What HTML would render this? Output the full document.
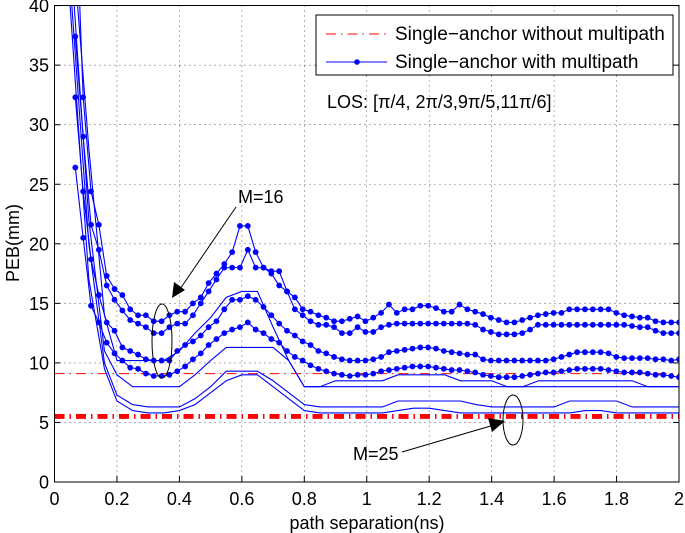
<!DOCTYPE html>
<html><head><meta charset="utf-8"><style>
body{margin:0;background:#fff}
svg{display:block;font-family:"Liberation Sans",sans-serif}
</style></head><body>
<svg id="c" width="685" height="533">
<defs><clipPath id="clip"><rect x="54.5" y="5.5" width="624.5" height="476.5"/></clipPath></defs>
<g id="grid"></g>
<g id="series" clip-path="url(#clip)"></g>
<rect x="54.5" y="5.5" width="624.5" height="476.5" fill="none" stroke="#000" stroke-width="1"/>
<g id="ticks"></g>
<text x="367" y="529" text-anchor="middle" font-size="18">path separation(ns)</text>
<text transform="translate(19,243) rotate(-90)" text-anchor="middle" font-size="18">PEB(mm)</text>
<g>
<rect x="316" y="15" width="357" height="60" fill="#fff" stroke="#000"/>
<line x1="326" y1="34" x2="387" y2="34" stroke="#f00" stroke-dasharray="10,5,1.5,5"/>
<text x="395" y="40" font-size="19">Single−anchor without multipath</text>
<line x1="326" y1="62" x2="387" y2="62" stroke="#00f"/>
<circle cx="357" cy="62" r="2.8" fill="#00f"/>
<text x="395" y="68" font-size="19">Single−anchor with multipath</text>
</g>
<text x="327" y="108" font-size="18">LOS: [π/4, 2π/3,9π/5,11π/6]</text>
<text x="238" y="203" font-size="18">M=16</text>
<line x1="236" y1="207" x2="178" y2="292" stroke="#000"/>
<polygon points="172,298 174,282 185,290" fill="#000"/>
<ellipse cx="162" cy="341" rx="10" ry="37" fill="none" stroke="#000"/>
<text x="353" y="460" font-size="18">M=25</text>
<line x1="402" y1="452" x2="494" y2="425" stroke="#000"/>
<polygon points="505,421 488,418 492,432" fill="#000"/>
<ellipse cx="513" cy="420" rx="10" ry="25" fill="none" stroke="#000"/>
</svg>
<script>
const xTicks=[0,0.2,0.4,0.6,0.8,1,1.2,1.4,1.6,1.8,2];
const xTickLabels=["0","0.2","0.4","0.6","0.8","1","1.2","1.4","1.6","1.8","2"];
const yTicks=[0,5,10,15,20,25,30,35,40];
const yTickLabels=["0","5","10","15","20","25","30","35","40"];
const dotStart=0.0667;
const dotStep=0.02511;
const dotA=[50,32.3,24.4,21.6,17.3,16.2,15.7,14.5,14,14,13.5,13.5,14,14.3,14.3,15,15.5,16.7,17.5,18.3,19.3,21.5,21.5,19.3,18,17.7,17.7,16,15.5,14.5,14.3,14,13.8,13.5,13.5,13.7,13.9,13.5,13.8,14.2,14.9,14.2,14.5,14.5,14.8,14.8,14.6,14.3,14.3,14.9,14.5,14.3,14.1,13.8,13.6,13.4,13.4,13.6,13.8,14.0,14.1,14.2,14.2,14.5,14.5,14.5,14.5,14.5,14.5,14.2,14.0,13.9,13.8,13.8,13.5,13.4,13.4,13.4];
const dotB=[37.4,29,21.6,19.5,16.5,15.3,14.4,13.6,13.3,13,12.5,12.5,13,13.3,13.3,14,15,16,17,18,18,18,19.5,18,18,17.5,16.5,16,14.5,14,13.5,13.2,13.2,13,12.5,12.5,13,12.6,12.6,13.0,13.2,13.3,13.3,13.3,13.3,13.3,13.3,13.3,13.3,13.3,13.3,13.2,12.8,12.6,12.4,12.4,12.4,12.5,12.8,13.2,13.2,13.2,13.2,13.2,13.2,13.2,13.2,13.2,13.2,13.2,13.2,13.1,13.0,13.0,12.7,12.5,12.5,12.5];
const dotC=[32.3,24.4,18.7,15.7,13.4,12.7,11.3,11.0,10.7,10.3,10.2,10.2,10.2,11,11.5,11.8,12.3,13,13.5,14.5,15.3,15.3,15.6,15.3,14.7,14,13.3,12.7,12.3,11.8,11.5,11,10.8,10.5,10.3,10.2,10.2,10.2,10.3,10.5,10.9,11,11.1,11.2,11.3,11.3,11.2,11,10.9,10.8,10.7,10.7,10.3,10.2,10.2,10.2,10.2,10.2,10.2,10.2,10.2,10.3,10.5,10.7,10.9,10.9,10.9,10.9,10.8,10.5,10.4,10.4,10.4,10.4,10.3,10.3,10.2,10.3];
const dotD=[26.4,20.5,14.8,13.4,11.7,10.8,10.2,9.6,9.5,9.1,8.9,8.9,9.0,9.3,9.7,10.3,10.8,11.5,12,12.5,12.8,13.0,13.4,12.8,12.5,12,11.7,11,10.5,10.2,9.8,9.5,9.3,9.1,9.0,8.9,9.0,9.0,9.1,9.3,9.4,9.5,9.6,9.7,9.7,9.7,9.6,9.5,9.4,9.4,9.3,9.2,9.0,8.9,8.8,8.8,8.8,8.9,9.0,9.1,9.2,9.2,9.3,9.4,9.5,9.5,9.5,9.5,9.4,9.3,9.2,9.2,9.2,9.1,9.0,9.0,8.9,8.8];
const solidX=[0.05,0.11,0.16,0.2,0.25,0.3,0.35,0.4,0.45,0.5,0.55,0.6,0.65,0.7,0.75,0.8,0.85,0.9,0.95,1,1.05,1.1,1.15,1.2,1.25,1.3,1.35,1.4,1.45,1.5,1.55,1.6,1.65,1.7,1.75,1.8,1.85,1.9,1.95,2];
const solid1=[48,28,14,10.2,10.2,10.2,10.2,11,12.5,13.8,15.5,16,16,13,10.2,8,8,8.5,8.5,8.5,8.5,9,9,9,9,8.5,8.5,8.5,8,8,8.5,8.5,8.5,8.5,8.5,8.5,8.5,8,8,8];
const solid2=[45,22,11,9,8,8,8,8,9,10.2,11.3,11.3,11.3,11.3,10.2,8,8,8,8,8,8,8,8,8,8,8,8,8,8,8,8,8,8,8,8,8,8,8,8,8];
const solid3=[42,20,10,7.3,6.5,6.3,6.3,6.3,7,8,9.3,9.3,9.3,8.5,7.5,6.5,6.3,6.3,6.3,6.3,6.3,6.8,6.8,6.8,6.8,6.8,6.5,6.3,6.3,6.3,6.3,6.3,6.8,6.8,6.8,6.8,6.3,6.3,6.3,6.3];
const solid4=[40,17,9.5,6.8,6,5.8,5.8,6,6.5,7.5,8.5,9,9,8,7,6,5.8,5.8,5.8,5.8,5.8,6,6.2,6.2,6,5.8,5.8,5.8,5.8,5.8,5.8,5.8,5.8,6,6,5.8,5.8,5.8,5.8,5.8];
const refLevels=[9.1,5.6,5.4];
const refWidths=[1,2.5,2.5];

const NS="http://www.w3.org/2000/svg";
const X=v=>54.5+v*312.25;
const Y=v=>482-v*11.91;
function mk(tag,attrs,parent){const e=document.createElementNS(NS,tag);for(const k in attrs)e.setAttribute(k,attrs[k]);parent.appendChild(e);return e;}
const grid=document.getElementById('grid'),ticks=document.getElementById('ticks'),ser=document.getElementById('series');
xTicks.forEach((t,i)=>{
  if(i>0&&i<xTicks.length-1){const g=mk('line',{x1:X(t),x2:X(t),y1:5.5,y2:482,stroke:'#000','stroke-width':0.6,'stroke-dasharray':'1,4'},grid);
  
  }
  const tl=mk('line',{x1:X(t),x2:X(t),y1:482,y2:476,stroke:'#000'},ticks);
  
  
  const tx=mk('text',{x:X(t),y:505,'text-anchor':'middle','font-size':18},ticks);tx.textContent=xTickLabels[i];
  
  
});
yTicks.forEach((t,i)=>{
  if(i>0&&i<yTicks.length-1){const g=mk('line',{x1:54.5,x2:679,y1:Y(t),y2:Y(t),stroke:'#000','stroke-width':0.6,'stroke-dasharray':'1,4'},grid);
  
  }
  const tl=mk('line',{x1:54.5,x2:60.5,y1:Y(t),y2:Y(t),stroke:'#000'},ticks);
  
  
  const tl2=mk('line',{x1:673,x2:679,y1:Y(t),y2:Y(t),stroke:'#000'},ticks);
  
  
  const tx=mk('text',{x:49,y:Y(t)+6.5,'text-anchor':'end','font-size':18},ticks);tx.textContent=yTickLabels[i];
  
  
});
refLevels.forEach((v,i)=>{
  const l=mk('line',{x1:54.5,x2:679,y1:Y(v),y2:Y(v),stroke:'#f00','stroke-width':refWidths[i],'stroke-dasharray':'10,5,1.5,5'},ser);
  
  
});
[solid1,solid2,solid3,solid4].forEach((s,k)=>{
  const p=mk('polyline',{points:s.map((v,i)=>X(solidX[i])+','+Y(v)).join(' '),fill:'none',stroke:'#00f','stroke-width':1.1},ser);
  
  
});
[dotA,dotB,dotC,dotD].forEach((s,k)=>{
  const px=i=>X(dotStart+i*dotStep);
  const p=mk('polyline',{points:s.map((v,i)=>px(i)+','+Y(v)).join(' '),fill:'none',stroke:'#00f','stroke-width':1.1},ser);
  
  
  s.forEach((v,i)=>{
    const c=mk('circle',{cx:px(i),cy:Y(v),r:2.9,fill:'#00f'},ser);
    
    
  });
});
</script>
</body></html>
